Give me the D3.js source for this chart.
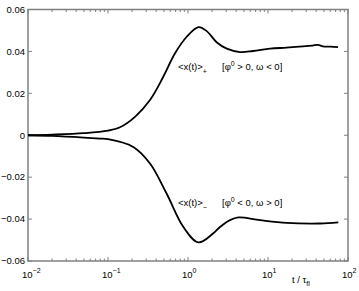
<!DOCTYPE html>
<html>
<head>
<meta charset="utf-8">
<script src="https://cdn.jsdelivr.net/npm/d3@7"></script>
<style>
  body { margin: 0; background: #fff; }
  svg { display: block; font-family: "Liberation Sans", Arial, sans-serif; }
  .spine { fill: none; stroke: #808080; stroke-width: 1.5; }
  .tick-line { stroke: #808080; stroke-width: 1; }
  .curve { fill: none; stroke: #000; stroke-width: 1.8; }
  .lbl { font-size: 9.5px; fill: #000; }
</style>
</head>
<body>
<div id="chart"></div>
<script>
// t / tau_fl  vs  <x(t)>
const tPlus   = [0.01, 0.02, 0.05, 0.1, 0.141, 0.2175, 0.335, 0.491, 0.688, 0.964, 1.35, 1.7, 2.28, 3.05, 4.47, 6.5, 10.6, 17, 27.4, 36, 42.2, 48.7, 60, 75];
const xPlus   = [0, 0.0003, 0.001, 0.0022, 0.0038, 0.0088, 0.0168, 0.0279, 0.0391, 0.047, 0.0516, 0.0498, 0.0444, 0.0413, 0.0397, 0.0402, 0.0413, 0.0418, 0.0424, 0.0428, 0.0431, 0.0424, 0.0423, 0.042];

const tMinus  = [0.01, 0.02, 0.05, 0.079, 0.1, 0.207, 0.335, 0.54, 0.873, 1.35, 2.07, 2.51, 3.35, 4.25, 7.94, 17.1, 44.7, 75.6];
const xMinus  = [0, -0.0003, -0.0011, -0.0016, -0.0019, -0.0056, -0.0135, -0.0278, -0.0437, -0.0511, -0.0468, -0.0438, -0.0405, -0.0392, -0.0405, -0.0418, -0.0421, -0.0416];

const yTicks = [-0.06, -0.04, -0.02, 0, 0.02, 0.04, 0.06];
const xExps  = [-2, -1, 0, 1, 2];

const W = 359, H = 291;
const margin = { top: 9.5, right: 11, bottom: 30, left: 28 };
const w = W - margin.left - margin.right;
const h = H - margin.top - margin.bottom;

const x = d3.scaleLog().domain([1e-2, 1e2]).range([0, w]);
const y = d3.scaleLinear().domain([-0.06, 0.06]).range([h, 0]);

const svg = d3.select('#chart').append('svg')
  .attr('width', W).attr('height', H);

const g = svg.append('g')
  .attr('transform', `translate(${margin.left},${margin.top})`);

// minor ticks on the log axis
const minor = [];
xExps.slice(0, -1).forEach(e => {
  for (let k = 2; k <= 9; k++) minor.push(k * Math.pow(10, e));
});
const major = xExps.map(e => Math.pow(10, e));

const tk = 4, tkMinor = 2.5;

// bottom + top ticks (inward)
major.forEach(v => {
  g.append('line').attr('class', 'tick-line')
    .attr('x1', x(v)).attr('x2', x(v)).attr('y1', h).attr('y2', h - tk);
  g.append('line').attr('class', 'tick-line')
    .attr('x1', x(v)).attr('x2', x(v)).attr('y1', 0).attr('y2', tk);
});
minor.forEach(v => {
  g.append('line').attr('class', 'tick-line')
    .attr('x1', x(v)).attr('x2', x(v)).attr('y1', h).attr('y2', h - tkMinor);
  g.append('line').attr('class', 'tick-line')
    .attr('x1', x(v)).attr('x2', x(v)).attr('y1', 0).attr('y2', tkMinor);
});
// left + right ticks
yTicks.forEach(v => {
  g.append('line').attr('class', 'tick-line')
    .attr('x1', 0).attr('x2', tk).attr('y1', y(v)).attr('y2', y(v));
  g.append('line').attr('class', 'tick-line')
    .attr('x1', w).attr('x2', w - tk).attr('y1', y(v)).attr('y2', y(v));
});

g.append('rect').attr('class', 'spine')
  .attr('x', 0).attr('y', 0).attr('width', w).attr('height', h);

// y tick labels
g.selectAll('.ylab').data(yTicks).enter().append('text')
  .attr('class', 'lbl ylab')
  .attr('x', -3).attr('y', d => y(d)).attr('dy', '0.35em')
  .attr('text-anchor', 'end')
  .text(d => d === 0 ? '0' : d3.format('.2f')(d).replace('-', '\u2212'));

// x tick labels: 10^e
xExps.forEach(e => {
  const t = g.append('text').attr('class', 'lbl')
    .attr('x', x(Math.pow(10, e)) - 6).attr('y', h + 17);
  t.append('tspan').text('10');
  t.append('tspan').attr('font-size', '7px').attr('dy', -5)
    .text(e < 0 ? '\u2212' + (-e) : e);
});

// x axis title
const xt = g.append('text').attr('class', 'lbl')
  .attr('x', 264).attr('y', h + 22);
xt.append('tspan').text('t / \u03c4');
xt.append('tspan').attr('font-size', '7px').attr('dy', 3).text('fl');

const line = d3.line()
  .x(d => x(d[0])).y(d => y(d[1]))
  .curve(d3.curveCatmullRom.alpha(0.5));

g.append('path').attr('class', 'curve')
  .attr('d', line(d3.zip(tPlus, xPlus)));
g.append('path').attr('class', 'curve')
  .attr('d', line(d3.zip(tMinus, xMinus)));

// curve labels
function curveLabel(px, py, sub, bracket) {
  const t = g.append('text').attr('class', 'lbl').attr('x', px).attr('y', py);
  t.append('tspan').text('<x(t)>');
  t.append('tspan').attr('font-size', '7px').attr('dy', 4).text(sub);
  const b = g.append('text').attr('class', 'lbl').attr('x', px + 44).attr('y', py);
  b.append('tspan').text('[\u03c6');
  b.append('tspan').attr('font-size', '7px').attr('dy', -4).text('0');
  b.append('tspan').attr('dy', 4).text(bracket);
}
curveLabel(150, 60, '+', ' > 0, \u03c9 < 0]');
curveLabel(150, 196, '\u2212', ' < 0, \u03c9 > 0]');
</script>
</body>
</html>
